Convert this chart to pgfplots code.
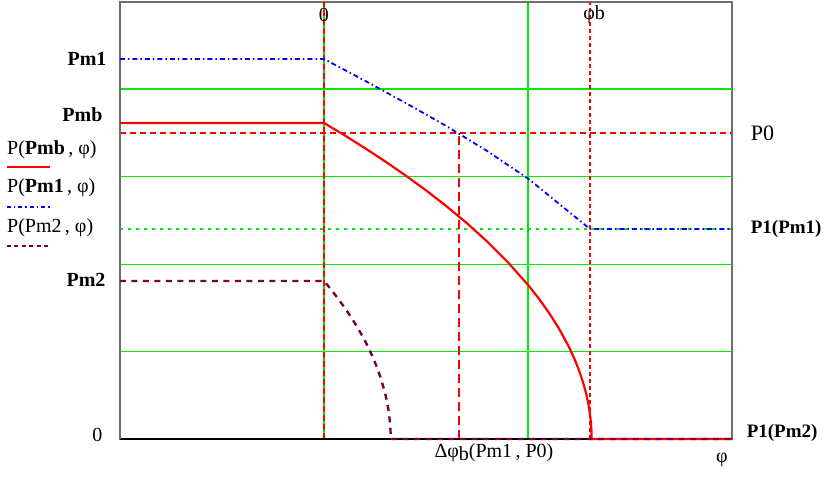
\documentclass[border=0pt]{standalone}
\usepackage{pgfplots}
\pgfplotsset{compat=1.18}
\usepackage{fontspec}
\setmainfont{Liberation Serif}
\definecolor{mgreen}{RGB}{0,235,0}
\definecolor{maroon}{RGB}{120,0,60}
\definecolor{fgray}{RGB}{110,110,110}
\begin{document}
\begin{tikzpicture}
\begin{axis}[
  scale only axis, width=612pt, height=437pt,
  xmin=-1, xmax=2, ymin=0, ymax=5,
  axis lines=box,
  axis line style={draw=fgray, line width=1.2pt},
  xtick={0,1}, ytick={1,2,3,4},
  xticklabels={}, yticklabels={},
  major tick length=0pt,
  grid=major,
  major grid style={draw=mgreen, line width=1.2pt},
  clip=false,
  font=\fontsize{20}{22}\selectfont,
]
% thicker green line at 4
\addplot[mgreen, line width=2.2pt] coordinates {(-1,4) (2,4)};
% reference lines
\addplot[red, line width=1.3pt, dash pattern=on 6pt off 4pt] coordinates {(-1,3.5) (2,3.5)};
\addplot[mgreen, line width=1.2pt, dash pattern=on 3pt off 5pt] coordinates {(-1,2.403) (2,2.403)};
\addplot[red, line width=1.2pt, dash pattern=on 6pt off 3pt] coordinates {(0,0) (0,5)};
\addplot[red, line width=1.2pt, dash pattern=on 4pt off 3pt] coordinates {(1.304,0) (1.304,5)};
\addplot[red, line width=1.2pt, dash pattern=on 9pt off 5pt] coordinates {(0.662,0) (0.662,3.5)};
% axes emphasised
\addplot[black, line width=2pt] coordinates {(-1,0) (2,0)};
\addplot[fgray, line width=1.8pt] coordinates {(-1,0) (-1,5)};
% P(Pmb, phi)
\addplot[red, line width=2.2pt] coordinates {
(-1,3.616) (0,3.616) (0.1,3.476) (0.2,3.329) (0.3,3.176) (0.4,3.015) (0.5,2.845)
(0.6,2.664) (0.7,2.470) (0.8,2.259) (0.9,2.026) (1.0,1.763) (1.05,1.616) (1.1,1.454)
(1.15,1.271) (1.2,1.057) (1.23,0.904) (1.25,0.786) (1.27,0.647) (1.285,0.519)
(1.295,0.412) (1.303,0.299) (1.308,0.200) (1.311,0.100) (1.312,0) (2,0)};
% P(Pm1, phi)
\addplot[blue, line width=1.8pt, dash pattern=on 5pt off 3pt on 1.5pt off 3pt] coordinates {
(-1,4.348) (0,4.348) (0.2,4.10) (0.4,3.845) (0.6,3.58) (0.8,3.295) (1.0,2.98)
(1.2,2.60) (1.304,2.403) (2,2.403)};
% P(Pm2, phi)
\addplot[maroon, line width=2.4pt, dash pattern=on 6pt off 5.5pt] coordinates {
(-1,1.808) (0,1.808) (0.02,1.752) (0.04,1.694) (0.06,1.634) (0.08,1.571) (0.10,1.506)
(0.12,1.438) (0.14,1.367) (0.16,1.292) (0.18,1.212) (0.20,1.127) (0.22,1.034)
(0.24,0.933) (0.26,0.818) (0.28,0.685) (0.30,0.520) (0.31,0.412) (0.318,0.300)
(0.323,0.200) (0.326,0.100) (0.327,0) (2,0)};
% labels
\node[anchor=east, font=\fontsize{20}{22}\selectfont\bfseries] at (axis cs:-1.049,4.348) {Pm1};
\node[anchor=east, font=\fontsize{20}{22}\selectfont\bfseries] at (axis cs:-1.069,3.707) {Pmb};
\node[anchor=east, font=\fontsize{20}{22}\selectfont\bfseries] at (axis cs:-1.054,1.819) {Pm2};
\node[anchor=east] at (axis cs:-1.069,0.046) {0};
\node at (axis cs:0,4.851) {0};
\node[anchor=west, inner sep=0pt] at (axis cs:1.27,4.851) {φb};
\node[anchor=west, font=\fontsize{22}{24}\selectfont] at (axis cs:2.075,3.5) {P0};
\node[anchor=west, font=\fontsize{19}{22}\selectfont\bfseries] at (axis cs:2.075,2.403) {P1(Pm1)};
\node[anchor=west, font=\fontsize{19}{22}\selectfont\bfseries] at (axis cs:2.055,0.069) {P1(Pm2)};
\node at (axis cs:0.833,-0.16) {Δφ\raisebox{-3pt}{b}(Pm1\,, P0)};
\node at (axis cs:1.951,-0.24) {φ};
% legend
\node[anchor=west, inner sep=0pt] at (axis cs:-1.554,3.307) {P(\textbf{Pmb}\,, φ)};
\draw[red, line width=1.5pt] (axis cs:-1.554,3.112) -- (axis cs:-1.343,3.112);
\node[anchor=west, inner sep=0pt] at (axis cs:-1.554,2.872) {P(\textbf{Pm1}\,, φ)};
\draw[blue, line width=1.5pt, dash pattern=on 4pt off 3pt on 1.5pt off 3pt] (axis cs:-1.554,2.654) -- (axis cs:-1.343,2.654);
\node[anchor=west, inner sep=0pt] at (axis cs:-1.554,2.414) {P(Pm2\,, φ)};
\draw[maroon, line width=1.5pt, dash pattern=on 4pt off 3.5pt] (axis cs:-1.554,2.208) -- (axis cs:-1.343,2.208);
\end{axis}
\useasboundingbox ([xshift=-120pt,yshift=-38pt]current axis.south west) rectangle ([xshift=101pt,yshift=2pt]current axis.north east);
\end{tikzpicture}
\end{document}
